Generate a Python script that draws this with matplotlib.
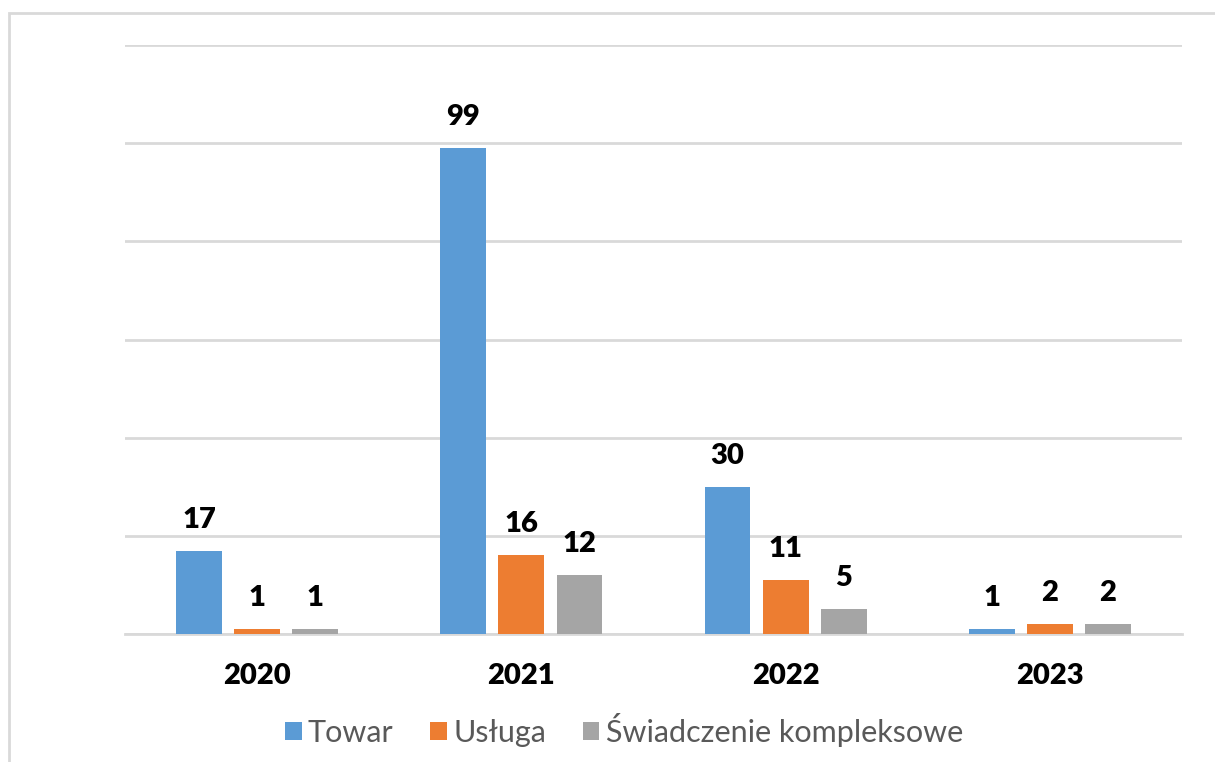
import matplotlib.pyplot as plt
import numpy as np
from matplotlib.patches import Rectangle

years = ['2020', '2021', '2022', '2023']
series = ['Towar', 'Usługa', 'Świadczenie kompleksowe']
towar = [17, 99, 30, 1]
usluga = [1, 16, 11, 2]
swiadczenie = [1, 12, 5, 2]
colors = ['#5B9BD5', '#ED7D31', '#A5A5A5']

plt.rcParams['font.family'] = ['Lato', 'DejaVu Sans']

fig = plt.figure(figsize=(12.15, 7.62), dpi=100)
# outer chart frame (runs off right and bottom edges)
fig.patches.append(Rectangle((9 / 1215, -0.05), 1.1, 1 - 13 / 762 + 0.05,
                             transform=fig.transFigure, fill=False,
                             edgecolor='#D9D9D9', linewidth=2))

ax = fig.add_axes([125 / 1215, 1 - 634 / 762, 1057 / 1215, 589 / 762])

x = np.arange(len(years))
width = 0.174
offsets = [-0.22, 0, 0.22]
for vals, name, c, off in zip([towar, usluga, swiadczenie], series, colors, offsets):
    bars = ax.bar(x + off, vals, width, color=c, label=name, zorder=3)
    for b, v in zip(bars, vals):
        ax.annotate(str(v), (b.get_x() + b.get_width() / 2, v),
                    xytext=(0, 13), textcoords='offset points',
                    ha='center', va='bottom', fontsize=21, fontweight='heavy',
                    color='black')

ax.set_xlim(-0.5, 3.5)
ax.set_ylim(0, 120)
ax.set_yticks(range(0, 121, 20))
ax.yaxis.grid(True, color='#D9D9D9', linewidth=2, zorder=0)
ax.tick_params(axis='y', length=0, labelleft=False)
ax.tick_params(axis='x', length=0, pad=21)
ax.set_xticks(x)
ax.set_xticklabels(years, fontsize=21, fontweight='heavy')
for s in ['top', 'right', 'left']:
    ax.spines[s].set_visible(False)
ax.spines['bottom'].set_color('#D9D9D9')
ax.spines['bottom'].set_linewidth(2)

ax.legend(loc='center', bbox_to_anchor=(0.472, -0.163), ncol=3, frameon=False,
          fontsize=22, handlelength=0.55, handleheight=0.55, handletextpad=0.2,
          columnspacing=1.2, labelcolor='#595959')

fig.savefig('out.png', dpi=100)
